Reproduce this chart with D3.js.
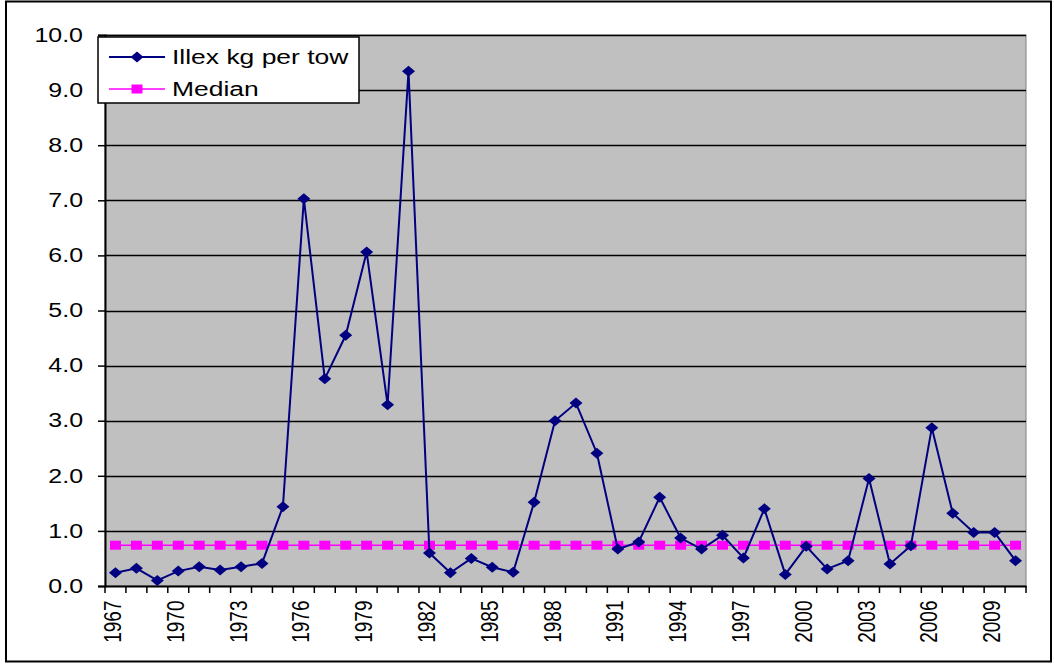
<!DOCTYPE html>
<html><head><meta charset="utf-8">
<script src="https://cdn.jsdelivr.net/npm/d3@7"></script>
<style>body{margin:0;background:#fff}svg{display:block}</style>
</head><body>
<svg id="c" width="1054" height="664"></svg>
<script>
const years = d3.range(1967, 2011);
const illex = [0.24,0.32,0.10,0.27,0.35,0.29,0.35,0.41,1.44,7.03,3.76,4.55,6.06,3.29,9.34,0.60,0.24,0.50,0.34,0.25,1.52,3.00,3.32,2.41,0.67,0.80,1.61,0.87,0.67,0.92,0.51,1.40,0.21,0.72,0.31,0.46,1.95,0.40,0.73,2.87,1.32,0.97,0.97,0.46];
const median = years.map(() => 0.74);
const yTicks = d3.range(0, 10.5, 1);
const seriesNames = ["Illex kg per tow", "Median"];

const svg = d3.select("#c");
const font = "Liberation Sans, Arial, sans-serif";
const SX = 1.28;
const L = 105, R = 1026, T = 35, B = 586;

svg.append("rect").attr("x",6).attr("y",1.5).attr("width",1045).attr("height",660)
  .attr("fill","#fff").attr("stroke","#000").attr("stroke-width",2);

const x = d3.scaleBand().domain(years).range([L, R]);
const y = d3.scaleLinear().domain([0, 10]).range([B, T]);

svg.append("rect").attr("x",L).attr("y",T).attr("width",R-L).attr("height",B-T)
  .attr("fill","#C0C0C0").attr("stroke","#808080").attr("stroke-width",1);

// gridlines
svg.append("g").selectAll("line").data(yTicks.filter(d=>d>0)).join("line")
  .attr("x1",L).attr("x2",R).attr("y1",d=>Math.round(y(d))+0.5).attr("y2",d=>Math.round(y(d))+0.5)
  .attr("stroke","#000").attr("stroke-width",1.3);

// y axis
const ya = svg.append("g").attr("transform",`translate(${L},0)`)
  .call(d3.axisLeft(y).tickValues(yTicks).tickFormat(d3.format(".1f")).tickSize(7));
ya.select(".domain").attr("stroke","#000").attr("stroke-width",2);
ya.selectAll(".tick line").attr("stroke","#000").attr("stroke-width",1.5);
ya.selectAll("text").attr("font-family",font).attr("font-size",19.5).attr("fill","#000")
  .attr("x",0).attr("transform",`translate(-22,0) scale(${SX},1)`);

// x axis
const xa = svg.append("g").attr("transform",`translate(0,${B})`)
  .call(d3.axisBottom(x).tickSize(0).tickFormat(d => ((d-1967)%3===0) ? d : ""));
xa.select(".domain").attr("stroke","#000").attr("stroke-width",2);
xa.selectAll("text").attr("font-family",font).attr("font-size",19).attr("fill","#000")
  .attr("transform",`translate(0,14.5) scale(${SX},1) rotate(-90)`).attr("text-anchor","end")
  .attr("x",0).attr("y",0).attr("dy","0.23em");
// tick marks between categories
const bounds = years.map(d=>x(d)).concat([R]);
svg.append("g").selectAll("line").data(bounds).join("line")
  .attr("x1",d=>d).attr("x2",d=>d).attr("y1",B).attr("y2",B+7)
  .attr("stroke","#000").attr("stroke-width",1.5);

const cx = d => x(d) + x.bandwidth()/2;

// median
const medLine = d3.line().x((d,i)=>cx(years[i])).y(d=>y(d));
svg.append("path").datum(median).attr("d",medLine).attr("fill","none").attr("stroke","#FF00FF").attr("stroke-width",1.5);
svg.append("g").selectAll("rect").data(median).join("rect")
  .attr("x",(d,i)=>cx(years[i])-5.5).attr("y",d=>y(d)-4.5).attr("width",11).attr("height",9).attr("fill","#FF00FF");

// illex
const line = d3.line().x((d,i)=>cx(years[i])).y(d=>y(d));
svg.append("path").datum(illex).attr("d",line).attr("fill","none").attr("stroke","#000080").attr("stroke-width",2);
const diamond = "M0,-5.5L6.5,0L0,5.5L-6.5,0Z";
svg.append("g").selectAll("path").data(illex).join("path")
  .attr("d",diamond).attr("transform",(d,i)=>`translate(${cx(years[i])},${y(d)})`).attr("fill","#000080");

// legend
const lg = svg.append("g");
lg.append("rect").attr("x",98).attr("y",37).attr("width",261).attr("height",66)
  .attr("fill","#fff").attr("stroke","#000").attr("stroke-width",1.5);
const rows = [{n:seriesNames[0], c:"#000080", m:"d", y:57},{n:seriesNames[1], c:"#FF00FF", m:"s", y:89}];
rows.forEach(r=>{
  lg.append("line").attr("x1",109).attr("x2",165).attr("y1",r.y).attr("y2",r.y).attr("stroke",r.c).attr("stroke-width",r.m==="d"?2:1.5);
  if (r.m==="d") lg.append("path").attr("d",diamond).attr("transform",`translate(137,${r.y})`).attr("fill",r.c);
  else lg.append("rect").attr("x",131.5).attr("y",r.y-4.5).attr("width",11).attr("height",9).attr("fill",r.c);
  lg.append("text").attr("transform",`translate(172,${r.y}) scale(1.26,1)`).attr("dy","0.35em")
    .attr("font-family",font).attr("font-size",21).text(r.n);
});
</script>
</body></html>
